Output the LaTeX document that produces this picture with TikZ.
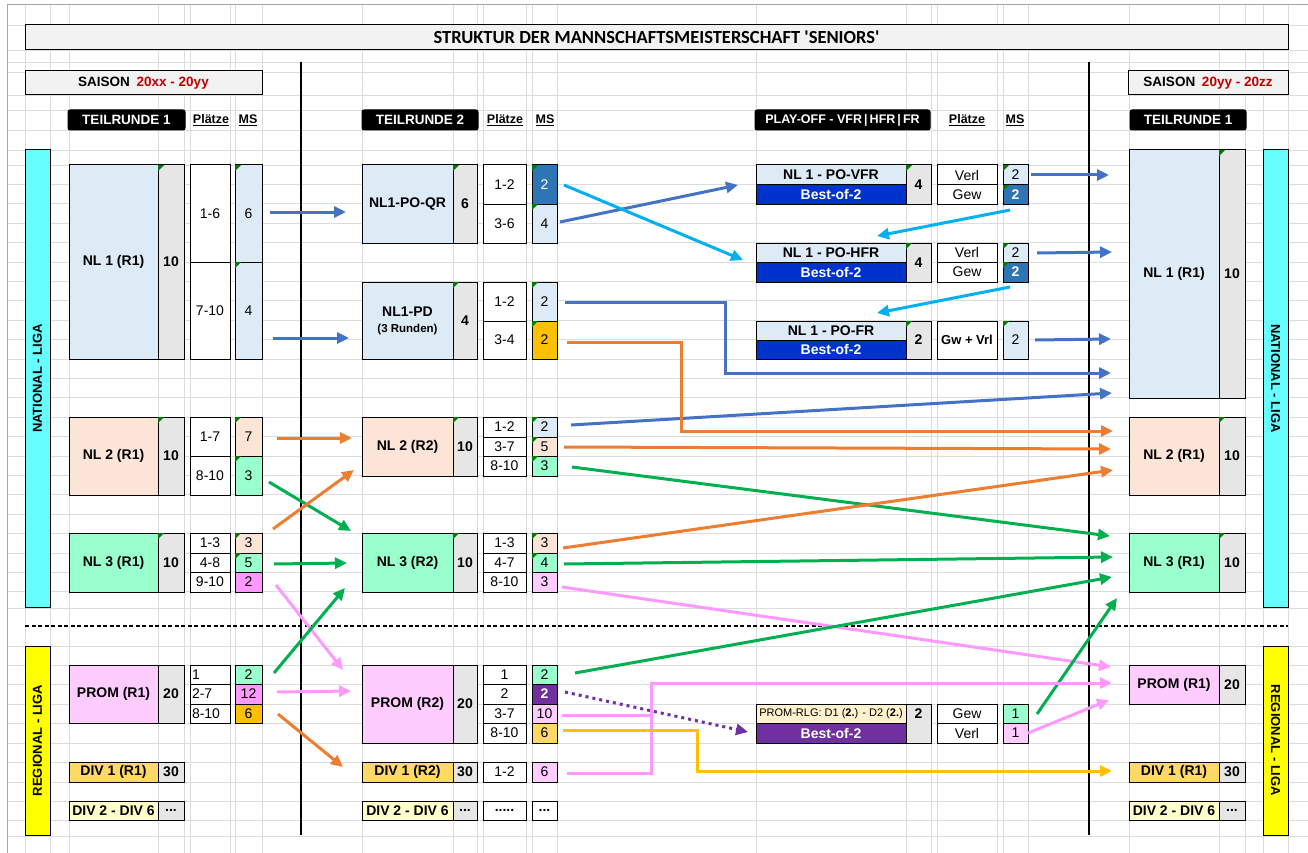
\documentclass[tikz,border=0pt]{standalone}
\usepackage{fontspec}
\setmainfont{Liberation Sans}
\newfontfamily\titlefont{Carlito}
\usetikzlibrary{arrows.meta}
\definecolor{lblue}{HTML}{DDEBF7}
\definecolor{peach}{HTML}{FCE4D6}
\definecolor{lgreen}{HTML}{99FFCC}
\definecolor{numgray}{HTML}{E6E6E6}
\definecolor{pinkl}{HTML}{FFCCFF}
\definecolor{pinkm}{HTML}{FF99FF}
\definecolor{orng}{HTML}{FFC000}
\definecolor{cgold}{HTML}{FFD966}
\definecolor{lyel}{HTML}{FFFFCC}
\definecolor{dblue}{HTML}{2E75B6}
\definecolor{bblue}{HTML}{0033CC}
\definecolor{purp}{HTML}{7030A0}
\definecolor{cream}{HTML}{FFF2CC}
\definecolor{cyanb}{HTML}{66FFFF}
\definecolor{yelb}{HTML}{FFFF00}
\definecolor{hdr}{HTML}{F2F2F2}
\definecolor{sred}{HTML}{C00000}
\definecolor{gridc}{HTML}{DCDCDC}
\definecolor{sheetc}{HTML}{A6A6A6}
\definecolor{trig}{HTML}{007A00}
\definecolor{ablue}{HTML}{4472C4}
\definecolor{acyan}{HTML}{00B0F0}
\definecolor{aorange}{HTML}{ED7D31}
\definecolor{agreen}{HTML}{00B050}
\definecolor{apink}{HTML}{FF99FF}
\definecolor{agold}{HTML}{FFC000}
\definecolor{apurp}{HTML}{7030A0}
\newcommand\mycell[7][]{%
  \pgfmathsetmacro\mcw{#5-#3}%
  \pgfmathsetmacro\mch{#6-#4}%
  \pgfmathsetmacro\mcx{(#3+#5)/2}%
  \pgfmathsetmacro\mcy{(#4+#6)/2}%
  \node[cellst,minimum width=\mcw pt,minimum height=\mch pt,#1] (#2) at (\mcx,\mcy) {#7};}
\newcommand\gtri[1]{\fill[trig] ([xshift=0.6pt,yshift=-0.6pt]#1.north west) -- ++(6pt,0pt) -- ++(-6pt,-6pt) -- cycle;}
\begin{document}
\begin{tikzpicture}[x=1pt,y=-1pt,
  gridl/.style={draw=gridc,line width=0.8pt},
  cellst/.style={draw=black,line width=1pt,inner sep=0pt,fill=white,font=\fontsize{14}{16}\selectfont,align=center},
  bl/.style={font=\fontsize{14}{16}\selectfont\bfseries},
  wb/.style={text=white,font=\fontsize{14}{16}\selectfont\bfseries},
  num/.style={fill=numgray,font=\fontsize{14}{16}\selectfont\bfseries},
  hd/.style={fill=black,text=white,rounded corners=2pt,font=\fontsize{13.5}{15}\selectfont\bfseries},
  lab/.style={font=\fontsize{12.5}{14}\selectfont\bfseries,inner sep=0pt},
  barlab/.style={font=\fontsize{13}{15}\selectfont\bfseries,inner sep=0pt},
  lft/.style={text width=36pt,align=left},
  arr/.style={line width=3pt,-{Triangle[length=12pt,width=11pt]}},
  dotarr/.style={line width=3pt,dash pattern=on 3pt off 4pt,-{Triangle[length=12pt,width=11pt]}}]
\useasboundingbox (0,0) rectangle (1308,853);
\fill[white] (0,0) rectangle (1308,853);
% grid
\foreach \x in {25,50,69,158,184,190,230,235,262,362,453,477,483,526,532,557,756,906,931,937,997,1003,1028,1129,1219,1245,1263,1288}
  \draw[gridl] (\x,4) -- (\x,853);
\foreach \y in {25,50,62,72,95,110,130,150,165,184.4,203.8,223.2,242.6,262,281.4,300.8,320.2,339.6,359,378.4,397.8,417.2,436.6,456,475.4,494.8,514.2,533.6,553,572.4,591.8,608,646,665,684,704,723,743,762,782,801,820,836}
  \draw[gridl] (7,\y) -- (1308,\y);
\draw[sheetc,line width=0.8pt] (7,853) -- (7,4) -- (1308,4);
% separators
\draw[black,line width=1.8pt] (301,62) -- (301,835);
\draw[black,line width=1.8pt] (1089,62) -- (1089,835);
\draw[black,line width=1.3pt,dash pattern=on 4pt off 2.5pt] (25,626) -- (1288,626);
% title and headers
\mycell[fill=hdr,font=\titlefont\fontsize{18.5}{20}\selectfont\bfseries]{title}{25}{25}{1288}{50}{STRUKTUR DER MANNSCHAFTSMEISTERSCHAFT 'SENIORS'}
\mycell[fill=hdr,font=\fontsize{13.5}{15}\selectfont\bfseries]{saisonL}{25}{71}{262}{95}{SAISON\enspace\textcolor{sred}{20xx - 20yy}}
\mycell[fill=hdr,font=\fontsize{13.5}{15}\selectfont\bfseries]{saisonR}{1128}{71}{1288}{95}{SAISON\enspace\textcolor{sred}{20yy - 20zz}}
\mycell[hd]{tr1h}{68}{110}{185}{130}{TEILRUNDE 1}
\mycell[hd]{tr2h}{362}{110}{478}{130}{TEILRUNDE 2}
\mycell[hd,font=\fontsize{12.5}{14}\selectfont\bfseries]{poh}{755}{110}{930}{130}{PLAY-OFF - VFR\,|\,HFR\,|\,FR}
\mycell[hd]{tr1rh}{1130}{110}{1246}{130}{TEILRUNDE 1}
\node[lab] (pl1) at (211,120) {\underline{Plätze}};
\node[lab] (ms1) at (248,120) {\underline{MS}};
\node[lab] (pl2) at (505,120) {\underline{Plätze}};
\node[lab] (ms2) at (545,120) {\underline{MS}};
\node[lab] (pl3) at (967,120) {\underline{Plätze}};
\node[lab] (ms3) at (1015,120) {\underline{MS}};
% league bars
\mycell[fill=cyanb]{natL}{25}{150}{50}{607}{}
\mycell[fill=cyanb]{natR}{1263}{150}{1288}{607}{}
\mycell[fill=yelb]{regL}{25}{646}{50}{835}{}
\mycell[fill=yelb]{regR}{1263}{646}{1288}{835}{}
\node[barlab,rotate=90] (natLt) at (natL.center) {NATIONAL - LIGA};
\node[barlab,rotate=-90] (natRt) at (natR.center) {NATIONAL - LIGA};
\node[barlab,rotate=90] (regLt) at (regL.center) {REGIONAL - LIGA};
\node[barlab,rotate=-90] (regRt) at (regR.center) {REGIONAL - LIGA};
% ===== Teilrunde 1 (left)
\mycell[bl,fill=lblue]{nl1n}{69}{165}{158}{359}{NL 1 (R1)}
\mycell[num]{nl1c}{158}{165}{184}{359}{10}
\mycell{p1a}{190}{165}{230}{262}{1-6}
\mycell{p1b}{190}{262}{230}{359}{7-10}
\mycell[fill=lblue]{m1a}{235}{165}{262}{262}{6}
\mycell[fill=lblue]{m1b}{235}{262}{262}{359}{4}
\gtri{nl1c}\gtri{m1a}\gtri{m1b}
\mycell[bl,fill=peach]{nl2n}{69}{417}{158}{495}{NL 2 (R1)}
\mycell[num]{nl2c}{158}{417}{184}{495}{10}
\mycell{p2a}{190}{417}{230}{456}{1-7}
\mycell{p2b}{190}{456}{230}{495}{8-10}
\mycell[fill=peach]{m2a}{235}{417}{262}{456}{7}
\mycell[fill=lgreen]{m2b}{235}{456}{262}{495}{3}
\gtri{nl2c}\gtri{m2a}\gtri{m2b}
\mycell[bl,fill=lgreen]{nl3n}{69}{533}{158}{592}{NL 3 (R1)}
\mycell[num]{nl3c}{158}{533}{184}{592}{10}
\mycell{p3a}{190}{533}{230}{553}{1-3}
\mycell{p3b}{190}{553}{230}{572}{4-8}
\mycell{p3c}{190}{572}{230}{592}{9-10}
\mycell[fill=peach]{m3a}{235}{533}{262}{553}{3}
\mycell[fill=lgreen]{m3b}{235}{553}{262}{572}{5}
\mycell[fill=pinkm]{m3c}{235}{572}{262}{592}{2}
\gtri{nl3c}\gtri{m3a}\gtri{m3b}
\mycell[bl,fill=pinkl]{prn}{69}{665}{158}{723}{PROM (R1)}
\mycell[num]{prc}{158}{665}{184}{723}{20}
\mycell[lft]{pp1}{190}{665}{230}{684}{1}
\mycell[lft]{pp2}{190}{684}{230}{704}{2-7}
\mycell[lft]{pp3}{190}{704}{230}{723}{8-10}
\mycell[fill=lgreen]{pm1}{235}{665}{262}{684}{2}
\mycell[fill=pinkm]{pm2}{235}{684}{262}{704}{12}
\mycell[fill=orng]{pm3}{235}{704}{262}{723}{6}
\mycell[bl,fill=cgold]{d1n}{69}{762}{158}{782}{DIV 1 (R1)}
\mycell[num]{d1c}{158}{762}{184}{782}{30}
\mycell[bl,fill=lyel]{d2n}{69}{801}{158}{820}{DIV 2 - DIV 6}
\mycell[num]{d2c}{158}{801}{184}{820}{...}
% ===== Teilrunde 2 (middle)
\mycell[bl,fill=lblue]{qrn}{362}{165}{453}{243}{NL1-PO-QR}
\mycell[num]{qrc}{453}{165}{477}{243}{6}
\mycell{qp1}{483}{165}{526}{204}{1-2}
\mycell{qp2}{483}{204}{526}{243}{3-6}
\mycell[fill=dblue,text=white]{qm1}{532}{165}{557}{204}{2}
\mycell[fill=lblue]{qm2}{532}{204}{557}{243}{4}
\gtri{qrc}\gtri{qm1}\gtri{qm2}
\mycell[bl,fill=lblue]{pdn}{362}{282}{453}{359}{NL1-PD\\[0pt]{\fontsize{11.5}{13}\selectfont(3 Runden)}}
\mycell[num]{pdc}{453}{282}{477}{359}{4}
\mycell{pdp1}{483}{282}{526}{321}{1-2}
\mycell{pdp2}{483}{321}{526}{359}{3-4}
\mycell[fill=lblue]{pdm1}{532}{282}{557}{321}{2}
\mycell[fill=orng]{pdm2}{532}{321}{557}{359}{2}
\gtri{pdc}\gtri{pdm1}\gtri{pdm2}
\mycell[bl,fill=peach]{n2n}{362}{417}{453}{476}{NL 2 (R2)}
\mycell[num]{n2c}{453}{417}{477}{476}{10}
\mycell{n2p1}{483}{417}{526}{437}{1-2}
\mycell{n2p2}{483}{437}{526}{456}{3-7}
\mycell{n2p3}{483}{456}{526}{476}{8-10}
\mycell[fill=lblue]{n2m1}{532}{417}{557}{437}{2}
\mycell[fill=peach]{n2m2}{532}{437}{557}{456}{5}
\mycell[fill=lgreen]{n2m3}{532}{456}{557}{476}{3}
\gtri{n2c}\gtri{n2m1}\gtri{n2m2}\gtri{n2m3}
\mycell[bl,fill=lgreen]{n3n}{362}{533}{453}{592}{NL 3 (R2)}
\mycell[num]{n3c}{453}{533}{477}{592}{10}
\mycell{n3p1}{483}{533}{526}{553}{1-3}
\mycell{n3p2}{483}{553}{526}{572}{4-7}
\mycell{n3p3}{483}{572}{526}{592}{8-10}
\mycell[fill=peach]{n3m1}{532}{533}{557}{553}{3}
\mycell[fill=lgreen]{n3m2}{532}{553}{557}{572}{4}
\mycell[fill=pinkl]{n3m3}{532}{572}{557}{592}{3}
\gtri{n3c}\gtri{n3m1}\gtri{n3m2}
\mycell[bl,fill=pinkl]{p2n}{362}{665}{453}{743}{PROM (R2)}
\mycell[num]{p2c}{453}{665}{477}{743}{20}
\mycell{p2p1}{483}{665}{526}{684}{1}
\mycell{p2p2}{483}{684}{526}{704}{2}
\mycell{p2p3}{483}{704}{526}{723}{3-7}
\mycell{p2p4}{483}{723}{526}{743}{8-10}
\mycell[fill=lgreen]{p2m1}{532}{665}{557}{684}{2}
\mycell[wb,fill=purp]{p2m2}{532}{684}{557}{704}{2}
\mycell[fill=pinkl]{p2m3}{532}{704}{557}{723}{10}
\mycell[fill=cgold]{p2m4}{532}{723}{557}{743}{6}
\mycell[bl,fill=cgold]{d1bn}{362}{762}{453}{782}{DIV 1 (R2)}
\mycell[num]{d1bc}{453}{762}{477}{782}{30}
\mycell{d1bp}{483}{762}{526}{782}{1-2}
\mycell[fill=pinkl]{d1bm}{532}{762}{557}{782}{6}
\mycell[bl,fill=lyel]{d2bn}{362}{801}{453}{820}{DIV 2 - DIV 6}
\mycell[num]{d2bc}{453}{801}{477}{820}{...}
\mycell[bl]{d2bp}{483}{801}{526}{820}{.....}
\mycell[bl]{d2bm}{532}{801}{557}{820}{...}
% ===== Play-off
\mycell[bl,fill=lblue]{vfrt}{756}{165}{906}{185}{NL 1 - PO-VFR}
\mycell[wb,fill=bblue]{vfrb}{756}{185}{906}{204}{Best-of-2}
\mycell[num]{vfrc}{906}{165}{931}{204}{4}
\mycell{vfrp1}{937}{165}{997}{185}{Verl}
\mycell{vfrp2}{937}{185}{997}{204}{Gew}
\mycell[fill=lblue]{vfrm1}{1003}{165}{1028}{185}{2}
\mycell[wb,fill=dblue]{vfrm2}{1003}{185}{1028}{204}{2}
\gtri{vfrc}\gtri{vfrm1}\gtri{vfrm2}
\mycell[bl,fill=lblue]{hfrt}{756}{243}{906}{262}{NL 1 - PO-HFR}
\mycell[wb,fill=bblue]{hfrb}{756}{262}{906}{282}{Best-of-2}
\mycell[num]{hfrc}{906}{243}{931}{282}{4}
\mycell{hfrp1}{937}{243}{997}{262}{Verl}
\mycell{hfrp2}{937}{262}{997}{282}{Gew}
\mycell[fill=lblue]{hfrm1}{1003}{243}{1028}{262}{2}
\mycell[wb,fill=dblue]{hfrm2}{1003}{262}{1028}{282}{2}
\gtri{hfrc}\gtri{hfrm1}\gtri{hfrm2}
\mycell[bl,fill=lblue]{frt}{756}{321}{906}{340}{NL 1 - PO-FR}
\mycell[wb,fill=bblue]{frb}{756}{340}{906}{359}{Best-of-2}
\mycell[num]{frc}{906}{321}{931}{359}{2}
\mycell[bl,font=\fontsize{13}{15}\selectfont\bfseries]{frp}{937}{321}{997}{359}{Gw + Vrl}
\mycell[fill=lblue]{frm}{1003}{321}{1028}{359}{2}
\gtri{frc}\gtri{frm}
\mycell[fill=cream,font=\fontsize{11}{13}\selectfont]{rlgt}{756}{704}{906}{723}{PROM-RLG: D1 (\textbf{2.}) - D2 (\textbf{2.})}
\mycell[wb,fill=purp]{rlgb}{756}{723}{906}{743}{Best-of-2}
\mycell[num]{rlgc}{906}{704}{931}{743}{}
\node[font=\fontsize{14}{16}\selectfont\bfseries,inner sep=0pt] (rlgct) at (918.5,714) {2};
\mycell{rlgp1}{937}{704}{997}{723}{Gew}
\mycell{rlgp2}{937}{723}{997}{743}{Verl}
\mycell[fill=lgreen]{rlgm1}{1003}{704}{1028}{723}{1}
\mycell[fill=pinkl]{rlgm2}{1003}{723}{1028}{743}{1}
% ===== Teilrunde 1 next season (right)
\mycell[bl,fill=lblue]{rn1n}{1129}{150}{1219}{398}{NL 1 (R1)}
\mycell[num]{rn1c}{1219}{150}{1245}{398}{10}
\mycell[bl,fill=peach]{rn2n}{1129}{417}{1219}{495}{NL 2 (R1)}
\mycell[num]{rn2c}{1219}{417}{1245}{495}{10}
\mycell[bl,fill=lgreen]{rn3n}{1129}{533}{1219}{592}{NL 3 (R1)}
\mycell[num]{rn3c}{1219}{533}{1245}{592}{10}
\gtri{rn1c}\gtri{rn2c}\gtri{rn3c}
\mycell[bl,fill=pinkl]{rprn}{1129}{665}{1219}{704}{PROM (R1)}
\mycell[num]{rprc}{1219}{665}{1245}{704}{20}
\mycell[bl,fill=cgold]{rd1n}{1129}{762}{1219}{782}{DIV 1 (R1)}
\mycell[num]{rd1c}{1219}{762}{1245}{782}{30}
\mycell[bl,fill=lyel]{rd2n}{1129}{801}{1219}{820}{DIV 2 - DIV 6}
\mycell[num]{rd2c}{1219}{801}{1245}{820}{...}
% ===== connector end points
\coordinate (s1) at (270,212); \coordinate (e1) at (346,212);
\coordinate (s2) at (273,338); \coordinate (e2) at (349,338);
\coordinate (s3) at (560,222); \coordinate (e3) at (738,185);
\coordinate (s4) at (564,185); \coordinate (e4) at (743,260);
\coordinate (s5) at (1031,175); \coordinate (e5) at (1109,175);
\coordinate (s6) at (1010,210); \coordinate (e6) at (877,236);
\coordinate (s7) at (1037,253); \coordinate (e7) at (1112,252);
\coordinate (s8) at (1010,287); \coordinate (e8) at (877,313);
\coordinate (s9) at (1035,340); \coordinate (e9) at (1111,339);
\coordinate (s10) at (565,302); \coordinate (k10a) at (725,302); \coordinate (k10b) at (725,373); \coordinate (e10) at (1111,373);
\coordinate (s11) at (571,425); \coordinate (e11) at (1112,393);
\coordinate (s12) at (567,342); \coordinate (k12a) at (681,342); \coordinate (k12b) at (681,431); \coordinate (e12) at (1113,431);
\coordinate (s13) at (564,447); \coordinate (e13) at (1111,449);
\coordinate (s14) at (572,467); \coordinate (e14) at (1110,536);
\coordinate (s15) at (563,548); \coordinate (e15) at (1113,470);
\coordinate (s16) at (564,564); \coordinate (e16) at (1113,557);
\coordinate (s17) at (562,587); \coordinate (e17) at (1111,667);
\coordinate (s18) at (575,673); \coordinate (e18) at (1112,577);
\coordinate (s19) at (1037,714); \coordinate (e19) at (1117,598);
\coordinate (s20) at (567,773); \coordinate (k20a) at (651,773); \coordinate (k20b) at (651,683); \coordinate (e20) at (1112,683);
\coordinate (s20b) at (562,715); \coordinate (k20c) at (651,715);
\coordinate (s21) at (1028,733); \coordinate (e21) at (1109,700);
\coordinate (s22) at (563,730); \coordinate (k22a) at (697,730); \coordinate (k22b) at (697,771); \coordinate (e22) at (1112,771);
\coordinate (s23) at (565,692); \coordinate (e23) at (748,732);
\coordinate (s24) at (277,438); \coordinate (e24) at (352,438);
\coordinate (s25) at (269,482); \coordinate (e25) at (351,531);
\coordinate (s26) at (273,529); \coordinate (e26) at (354,470);
\coordinate (s27) at (274,564); \coordinate (e27) at (347,563);
\coordinate (s28) at (276,585); \coordinate (e28) at (343,670);
\coordinate (s29) at (274,673); \coordinate (e29) at (345,588);
\coordinate (s30) at (277,692); \coordinate (e30) at (351,691);
\coordinate (s31) at (278,714); \coordinate (e31) at (343,767);
% ===== connectors
\draw[arr,ablue] (s1) -- (e1);
\draw[arr,ablue] (s2) -- (e2);
\draw[arr,ablue] (s3) -- (e3);
\draw[arr,acyan] (s4) -- (e4);
\draw[arr,ablue] (s5) -- (e5);
\draw[arr,acyan] (s6) -- (e6);
\draw[arr,ablue] (s7) -- (e7);
\draw[arr,acyan] (s8) -- (e8);
\draw[arr,ablue] (s9) -- (e9);
\draw[arr,ablue] (s10) -- (k10a) -- (k10b) -- (e10);
\draw[arr,ablue] (s11) -- (e11);
\draw[arr,aorange] (s12) -- (k12a) -- (k12b) -- (e12);
\draw[arr,aorange] (s13) -- (e13);
\draw[arr,agreen] (s14) -- (e14);
\draw[arr,aorange] (s15) -- (e15);
\draw[arr,agreen] (s16) -- (e16);
\draw[arr,apink] (s17) -- (e17);
\draw[arr,agreen] (s18) -- (e18);
\draw[arr,agreen] (s19) -- (e19);
\draw[arr,apink] (s20) -- (k20a) -- (k20b) -- (e20);
\draw[apink,line width=3pt] (s20b) -- (k20c);
\draw[arr,apink] (s21) -- (e21);
\draw[arr,agold] (s22) -- (k22a) -- (k22b) -- (e22);
\draw[dotarr,apurp] (s23) -- (e23);
\draw[arr,aorange] (s24) -- (e24);
\draw[arr,agreen] (s25) -- (e25);
\draw[arr,aorange] (s26) -- (e26);
\draw[arr,agreen] (s27) -- (e27);
\draw[arr,apink] (s28) -- (e28);
\draw[arr,agreen] (s29) -- (e29);
\draw[arr,apink] (s30) -- (e30);
\draw[arr,aorange] (s31) -- (e31);
\end{tikzpicture}
\end{document}
